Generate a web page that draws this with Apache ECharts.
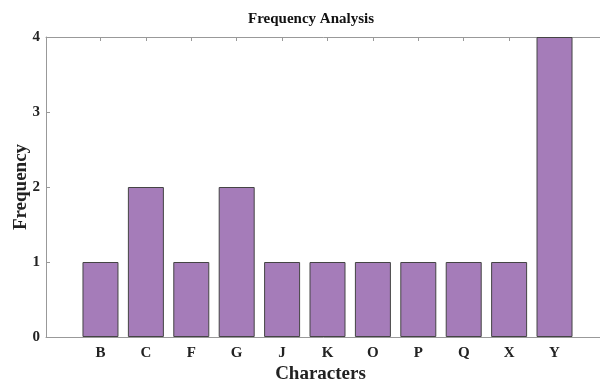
<!DOCTYPE html>
<html>
<head>
<meta charset="utf-8">
<script src="https://cdn.jsdelivr.net/npm/echarts@6/dist/echarts.min.js"></script>
<style>html,body{margin:0;padding:0;background:#fff}#c{width:600px;height:383px}</style>
</head>
<body>
<div id="c"></div>
<script>
const categories = ['B','C','F','G','J','K','O','P','Q','X','Y'];
const frequency = [1,2,1,2,1,1,1,1,1,1,4];
const yTicks = [0,1,2,3,4];

const font = 'Liberation Serif, Times New Roman, serif';
const positions = categories.map((c,i)=>i+1);
const chart = echarts.init(document.getElementById('c'));
chart.setOption({
  animation:false,
  backgroundColor:'#fff',
  title:{text:'Frequency Analysis',left:306,top:7,textAlign:'center',
    textStyle:{fontFamily:font,fontWeight:'bold',fontSize:15,color:'#111'}},
  grid:{left:46,top:37,width:563,height:300,outerBoundsMode:'none',containLabel:false},
  xAxis:[{
    type:'value',min:-0.2,max:12.2,position:'bottom',
    name:'Characters',nameLocation:'middle',nameGap:28,nameMoveOverlap:false,
    nameTextStyle:{fontFamily:font,fontWeight:'bold',fontSize:19,color:'#222',padding:[0,14,0,0]},
    axisLine:{show:true,onZero:false,lineStyle:{color:'#999',width:1}},
    axisTick:{show:true,inside:true,length:4,customValues:positions,lineStyle:{color:'#999'}},
    axisLabel:{customValues:positions,formatter:v=>categories[Math.round(v)-1]||'',
      fontFamily:font,fontWeight:'bold',fontSize:15,color:'#222',margin:9},
    splitLine:{show:false}
  },{
    type:'value',min:-0.2,max:12.2,position:'top',
    axisLine:{show:true,onZero:false,lineStyle:{color:'#999',width:1}},
    axisTick:{show:true,inside:true,length:4,customValues:positions,lineStyle:{color:'#999'}},
    axisLabel:{show:false},splitLine:{show:false}
  }],
  yAxis:{
    type:'value',min:0,max:4,interval:1,
    name:'Frequency',nameLocation:'middle',nameGap:15,nameMoveOverlap:false,
    nameTextStyle:{fontFamily:font,fontWeight:'bold',fontSize:19,color:'#222'},
    axisLine:{show:true,onZero:false,lineStyle:{color:'#999',width:1}},
    axisTick:{show:true,inside:true,length:4,lineStyle:{color:'#999'}},
    axisLabel:{fontFamily:font,fontWeight:'bold',fontSize:15,color:'#222',margin:6,
      formatter:v=>yTicks.includes(v)?String(v):''},
    splitLine:{show:false}
  },
  series:[{
    type:'bar',xAxisIndex:0,barWidth:36,
    data:categories.map((c,i)=>[positions[i],frequency[i]]),
    itemStyle:{color:'#a57cb9',borderColor:'#444',borderWidth:1}
  }]
});
</script>
</body>
</html>
